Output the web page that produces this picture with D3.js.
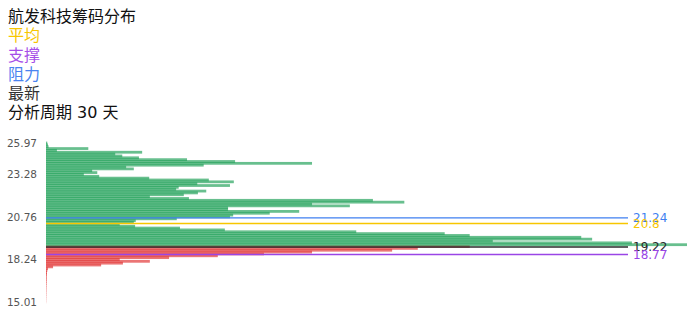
<!DOCTYPE html>
<html>
<head>
<meta charset="utf-8">
<script src="https://cdn.jsdelivr.net/npm/d3@7"></script>
<style>
  body { margin: 0; background: #fff; }
  svg { display: block; font-family: "DejaVu Sans", "Noto Sans CJK SC", sans-serif; }
</style>
</head>
<body>
<svg id="chart" width="696" height="320"></svg>
<script>
width = 696;
height = 320;

// chip volume per price level, read top (highest price) to bottom
chipsTopDown = [
  0.2, 0.3, 0.4, 6.6, 1.7, 15.0, 10.8, 11.9, 14.5, 22.0,
  29.5, 41.5, 24.6, 12.5, 13.7, 7.2, 8.0, 5.9, 8.3, 16.1,
  25.4, 29.3, 23.6, 28.7, 20.7, 20.3, 25.0, 23.7, 21.5, 16.2,
  22.3, 51.0, 55.9, 41.5, 47.4, 28.4, 28.4, 39.5, 34.9, 29.2,
  28.7, 20.4, 14.0, 13.7, 11.5, 13.9, 20.9, 27.9, 48.4, 62.2,
  66.1, 83.5, 85.2, 69.7, 91.4, 100.0, 66.1, 58.0, 54.0, 41.5,
  34.0, 26.8, 19.2, 11.5, 16.2, 12.0, 8.6, 1.1, 0.3, 0.2,
  0.15, 0.15, 0.1, 0.1, 0.1, 0.08, 0.08, 0.06, 0.06, 0.05,
  0.05, 0.04, 0.04, 0.03, 0.03, 0.02, 0.02
];
chips = chipsTopDown.slice().reverse(); // level 0 = lowest price

tickLevels = [0, 23, 46, 69, 86];
tickLabels = ['15.01', '18.24', '20.76', '23.28', '25.97'];

lineNames = ['阻力', '平均', '最新', '支撑'];
lineValues = [21.24, 20.8, 19.22, 18.77];
lineLevels = [45.55, 42.46, 29.75, 25.7];
lineColors = ['#3f7ff0', '#f7c600', '#2b2b2b', '#9a45e6'];

titleLines = ['航发科技筹码分布', '平均', '支撑', '阻力', '最新', '分析周期 30 天'];
titleColors = ['#111', '#f7c600', '#a64ee8', '#4a84f0', '#333', '#111'];

lastLevel = lineLevels[2];

const svg = d3.select('#chart');

const x = d3.scaleLinear()
  .domain([0, d3.max(chips)])
  .range([46, 687]);
const y = d3.scaleLinear()
  .domain([0, chips.length - 1])
  .range([302, 143]);
const step = y(0) - y(1);
const barH = step * 1.5;

// bars
svg.append('g')
  .selectAll('rect')
  .data(chips)
  .join('rect')
    .attr('x', x(0))
    .attr('y', (d, i) => y(i) - barH / 2)
    .attr('width', d => x(d) - x(0))
    .attr('height', barH)
    .attr('fill', (d, i) => i < lastLevel + 0.5 ? '#e23434' : '#20a058')
    .attr('fill-opacity', 0.68);

// y axis labels
const yAxis = d3.axisLeft(y)
  .tickValues(tickLevels)
  .tickFormat((d, i) => tickLabels[i])
  .tickSize(0)
  .tickPadding(0);
svg.append('g')
  .attr('transform', 'translate(37,0)')
  .call(yAxis)
  .call(g => g.select('.domain').remove())
  .selectAll('text')
    .attr('fill', '#555')
    .style('font-size', '10.5px')
    .style('font-family', '"DejaVu Sans", sans-serif');

// reference lines
const lines = svg.append('g')
  .selectAll('g')
  .data(lineValues)
  .join('g');
lines.append('line')
  .attr('x1', 46)
  .attr('x2', 628)
  .attr('y1', (d, i) => y(lineLevels[i]))
  .attr('y2', (d, i) => y(lineLevels[i]))
  .attr('stroke', (d, i) => lineColors[i])
  .attr('stroke-width', 1.3);
lines.append('text')
  .attr('x', 633)
  .attr('y', (d, i) => y(lineLevels[i]))
  .attr('dy', '0.35em')
  .attr('fill', (d, i) => lineColors[i])
  .style('font-size', '12px')
  .text(d => d);

// title + legend
svg.append('g')
  .selectAll('text')
  .data(titleLines)
  .join('text')
    .attr('x', 8)
    .attr('y', (d, i) => 22 + i * 19.25)
    .attr('fill', (d, i) => titleColors[i])
    .style('font-size', '16px')
    .text(d => d);
</script>
</body>
</html>
